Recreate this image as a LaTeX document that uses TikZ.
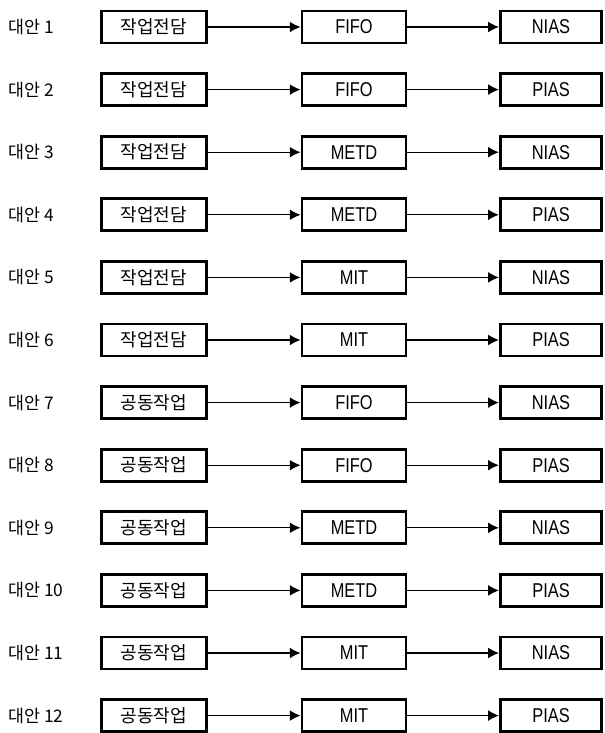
\documentclass[tikz,border=0pt]{standalone}
\usepackage{fontspec}
\setmainfont{Noto Sans CJK KR}
\newfontfamily\latinnarrow[FakeStretch=0.82]{Liberation Sans}
\usetikzlibrary{arrows.meta}
\tikzset{
  boxnode/.style={draw, line width=2.2pt, minimum height=24pt, inner sep=0pt, font=\fontsize{13.5}{15}\selectfont},
  latinbox/.style={boxnode, font=\latinnarrow\fontsize{15}{17}\selectfont},
  lbl/.style={anchor=west, inner sep=0pt, font=\fontsize{13}{15}\selectfont},
  conn/.style={line width=0.8pt, -{Latex[length=8pt,width=8pt]}}
}
\begin{document}
\begin{tikzpicture}[x=0.75pt,y=-0.75pt]
\useasboundingbox (0,0) rectangle (605,733);
\foreach \i/\first/\mid/\last in {1/작업전담/FIFO/NIAS,2/작업전담/FIFO/PIAS,3/작업전담/METD/NIAS,4/작업전담/METD/PIAS,5/작업전담/MIT/NIAS,6/작업전담/MIT/PIAS,7/공동작업/FIFO/NIAS,8/공동작업/FIFO/PIAS,9/공동작업/METD/NIAS,10/공동작업/METD/PIAS,11/공동작업/MIT/NIAS,12/공동작업/MIT/PIAS}{
  \pgfmathsetmacro{\yy}{27+(\i-1)*62.6}
  \node[lbl] (l\i) at (8,\yy) {대안 \i};
  \node[boxnode, minimum width=79pt] (a\i) at (154,\yy) {\first};
  \node[latinbox, minimum width=78pt] (b\i) at (354,\yy) {\mid};
  \node[latinbox, minimum width=76pt] (c\i) at (551,\yy) {\last};
  \draw[conn] (a\i) -- (b\i);
  \draw[conn] (b\i) -- (c\i);
}
\end{tikzpicture}
\end{document}
